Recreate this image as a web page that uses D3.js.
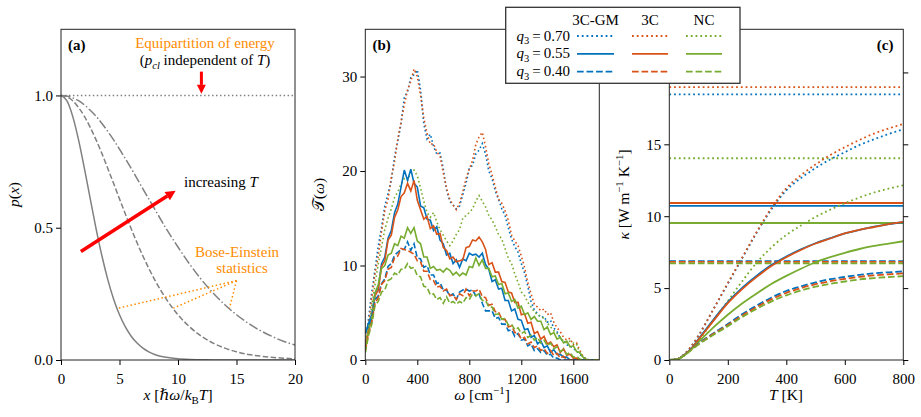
<!DOCTYPE html>
<html>
<head>
<meta charset="utf-8">
<script src="https://cdn.jsdelivr.net/npm/d3@7"></script>
<style>
  body { margin: 0; background: #fff; }
  svg { display: block; font-family: "Liberation Serif", "DejaVu Serif", serif; }
  .tick text { font-size: 15px; fill: #000; font-family: "Liberation Serif", serif; }
  .tick line { stroke: #000; stroke-width: 1; }
</style>
</head>
<body>
<svg id="fig" width="921" height="417"></svg>
<script>
// ---- panel (a): p(x) curves
const xA = [0, 0.5, 1, 1.5, 2, 2.5, 3, 3.5, 4, 4.5, 5, 5.5, 6, 6.5, 7, 7.5, 8, 9, 10, 11, 12, 13, 14, 15, 16, 17, 18, 19, 20];
const pLowT = [1, 0.98, 0.921, 0.832, 0.724, 0.609, 0.496, 0.393, 0.304, 0.23, 0.171, 0.125, 0.09, 0.064, 0.045, 0.031, 0.021, 0.01, 0.0045, 0.002, 0.001, 0, 0, 0, 0, 0, 0, 0, 0];
const pMidT = [1, 0.995, 0.98, 0.954, 0.921, 0.879, 0.832, 0.78, 0.724, 0.667, 0.609, 0.552, 0.496, 0.443, 0.393, 0.347, 0.304, 0.23, 0.171, 0.125, 0.09, 0.064, 0.045, 0.031, 0.021, 0.015, 0.01, 0.007, 0.0045];
const pHighT = [1, 0.998, 0.991, 0.98, 0.964, 0.944, 0.921, 0.894, 0.864, 0.832, 0.797, 0.761, 0.724, 0.686, 0.647, 0.609, 0.571, 0.496, 0.427, 0.362, 0.304, 0.253, 0.209, 0.171, 0.139, 0.112, 0.09, 0.071, 0.057];
const xClassical = [0, 20];
const pClassical = [1, 1];

// ---- panel (b): spectra T(omega)
const omega = [0, 25, 50, 75, 100, 125, 150, 175, 200, 225,
  250, 275, 300, 325, 350, 375, 400, 425, 450, 475,
  500, 525, 550, 575, 600, 625, 650, 675, 700, 725,
  750, 775, 800, 825, 850, 875, 900, 925, 950, 975,
  1000, 1025, 1050, 1075, 1100, 1125, 1150, 1175, 1200, 1225,
  1250, 1275, 1300, 1325, 1350, 1375, 1400, 1425, 1450, 1475,
  1500, 1525, 1550, 1575, 1600, 1625, 1650, 1675, 1700, 1725,
  1750, 1775, 1800];
const specGM70 = [1.5, 4.4, 7.2, 9.6, 12.1, 14.0, 16.3, 17.6, 19.0, 21.5,
  23.2, 25.0, 27.8, 28.4, 29.9, 30.2, 30.7, 28.6, 25.0, 23.4,
  23.9, 22.6, 21.8, 21.9, 20.2, 18.0, 16.8, 16.4, 16.0, 16.3,
  17.5, 18.7, 20.3, 20.6, 21.8, 22.2, 22.9, 21.8, 20.0, 19.2,
  17.9, 17.0, 16.0, 15.3, 14.0, 12.8, 12.0, 11.4, 10.2, 9.2,
  7.8, 6.2, 5.3, 4.9, 4.5, 4.6, 4.0, 4.2, 3.4, 3.0,
  2.3, 2.0, 1.6, 1.5, 1.2, 1.0, 0.6, 0.3, 0.1, 0,
  0, 0, 0];
const spec3C70 = [1.0, 3.8, 6.6, 9.2, 11.0, 13.6, 15.8, 17.0, 19.3, 21.0,
  23.4, 25.2, 27.0, 28.6, 29.5, 30.8, 30.0, 28.0, 25.6, 24.0,
  22.8, 22.9, 22.0, 21.6, 19.8, 18.2, 17.0, 16.4, 15.9, 16.6,
  17.8, 19.2, 20.2, 21.1, 22.8, 23.6, 24.1, 22.6, 20.8, 19.6,
  18.3, 17.0, 16.6, 15.8, 14.8, 13.2, 12.6, 12.1, 11.0, 9.8,
  8.2, 7.0, 5.9, 5.6, 5.2, 5.4, 4.8, 5.0, 4.0, 3.4,
  3.0, 2.4, 2.1, 2.3, 1.6, 1.8, 1.0, 0.4, 0.1, 0,
  0, 0, 0];
const specNC70 = [0.8, 3.0, 5.8, 8.0, 10.2, 12.0, 13.8, 15.0, 16.0, 17.2,
  17.8, 18.6, 19.2, 19.0, 19.9, 20.1, 19.5, 18.2, 16.8, 15.6,
  15.1, 15.6, 14.6, 13.8, 13.2, 12.6, 12.1, 12.6, 13.3, 13.8,
  15.0, 15.3, 15.6, 16.0, 16.8, 17.4, 16.8, 16.2, 15.3, 14.8,
  14.1, 13.3, 12.8, 11.8, 10.8, 10.2, 9.1, 8.2, 7.2, 6.8,
  6.1, 5.6, 5.1, 4.8, 4.6, 4.4, 3.9, 3.5, 3.1, 2.8,
  2.4, 2.0, 1.8, 2.0, 1.8, 1.7, 0.7, 0.3, 0.1, 0,
  0, 0, 0];
const specGM55 = [2.8, 3.9, 4.8, 7.1, 7.7, 10.2, 10.9, 12.9, 13.7, 15.6,
  16.5, 18.3, 20.1, 19.0, 20.2, 18.7, 18.3, 16.3, 16.1, 14.9,
  14.8, 13.7, 14.1, 12.7, 12.3, 11.1, 11.3, 10.2, 10.6, 9.8,
  10.7, 10.5, 11.3, 11.1, 11.2, 10.9, 11.3, 10.1, 9.6, 8.3,
  8.5, 7.5, 7.6, 6.3, 6.3, 5.2, 5.4, 4.3, 4.2, 3.2,
  3.3, 2.4, 2.6, 1.7, 2.0, 1.3, 1.5, 0.8, 1.1, 0.6,
  0.6, 0.3, 0.3, 0, 0, 0, 0, 0, 0, 0,
  0, 0, 0];
const spec3C55 = [1.6, 3.3, 4.4, 6.8, 7.4, 9.9, 10.5, 12.7, 13.2, 15.1,
  15.9, 17.3, 17.7, 18.7, 17.9, 19.0, 16.9, 15.9, 14.9, 15.2,
  13.9, 14.2, 13.3, 13.4, 11.9, 11.6, 10.7, 10.9, 10.4, 10.5,
  10.6, 11.9, 12.0, 12.7, 12.6, 13.0, 12.5, 11.7, 10.1, 10.3,
  9.3, 9.3, 8.3, 8.2, 7.2, 7.1, 6.1, 6.1, 4.8, 4.9,
  3.9, 4.0, 2.8, 3.0, 2.2, 2.5, 1.7, 1.9, 1.4, 1.6,
  0.8, 1.2, 0.5, 0.6, 0.2, 0.2, 0, 0, 0, 0,
  0, 0, 0];
const specNC55 = [1.2, 3.3, 4.6, 7.1, 8.0, 9.7, 10.0, 11.1, 11.3, 12.3,
  12.1, 13.1, 12.9, 14.0, 13.4, 14.0, 12.6, 12.3, 10.9, 10.9,
  9.7, 9.9, 9.5, 9.6, 9.3, 9.7, 9.5, 9.0, 9.3, 8.9,
  9.2, 9.0, 9.9, 9.8, 10.8, 10.0, 10.6, 9.7, 9.7, 8.8,
  8.9, 8.0, 8.1, 7.0, 7.1, 6.2, 6.4, 5.5, 5.7, 4.8,
  5.0, 4.3, 4.6, 4.1, 4.1, 3.2, 3.5, 2.7, 2.9, 2.2,
  2.4, 1.8, 2.0, 1.4, 1.5, 0.9, 0.8, 0.3, 0, 0,
  0, 0, 0];
const specGM40 = [3.0, 3.6, 4.6, 6.4, 6.8, 8.1, 8.6, 9.9, 10.2, 11.1,
  11.4, 11.7, 11.7, 12.5, 11.6, 12.3, 10.8, 10.7, 9.8, 10.0,
  9.0, 9.0, 8.1, 8.2, 7.4, 7.4, 6.8, 7.0, 6.4, 7.2,
  7.4, 7.5, 7.3, 7.4, 6.8, 7.0, 6.0, 5.2, 5.2, 5.2,
  4.4, 4.5, 3.8, 3.8, 3.1, 3.2, 2.5, 2.8, 2.1, 2.2,
  1.5, 1.7, 1.0, 1.2, 0.8, 1.0, 0.5, 0.6, 0.2, 0.2,
  0, 0, 0, 0, 0, 0, 0, 0, 0, 0,
  0, 0, 0];
const spec3C40 = [1.0, 2.8, 4.0, 6.0, 6.6, 8.0, 8.4, 9.6, 9.8, 10.8,
  11.0, 11.8, 11.7, 11.6, 11.4, 11.2, 10.5, 10.4, 9.4, 9.4,
  8.5, 8.4, 7.7, 7.8, 7.3, 7.5, 6.8, 6.9, 6.4, 7.0,
  6.8, 7.5, 6.8, 7.3, 7.3, 7.5, 6.7, 6.6, 5.8, 5.9,
  5.1, 5.1, 4.3, 4.3, 3.5, 3.6, 2.9, 2.9, 2.2, 2.4,
  1.7, 1.9, 1.3, 1.5, 1.0, 1.2, 0.7, 1.0, 0.5, 0.7,
  0.2, 0.4, 0, 0, 0, 0, 0, 0, 0, 0,
  0, 0, 0];
const specNC40 = [0.8, 2.6, 3.8, 5.8, 6.2, 7.2, 7.4, 8.4, 8.6, 9.2,
  9.0, 9.6, 9.6, 10.2, 9.7, 9.8, 8.9, 8.8, 7.8, 7.7,
  6.9, 7.0, 6.4, 6.6, 6.0, 6.7, 6.0, 6.2, 5.9, 6.2,
  6.0, 6.6, 6.4, 7.0, 6.8, 7.0, 6.3, 6.3, 5.6, 5.6,
  4.8, 4.9, 4.3, 4.4, 3.7, 3.8, 3.2, 3.4, 2.8, 3.0,
  2.4, 2.6, 2.1, 2.4, 1.8, 2.1, 1.5, 1.8, 1.2, 1.4,
  0.9, 1.1, 0.6, 0.8, 0.3, 0.4, 0.1, 0, 0, 0,
  0, 0, 0];

// ---- panel (c): kappa(T), quantum-corrected curves and classical levels
const tempK = [0, 25, 50, 75, 100, 150, 200, 250, 300, 350, 400, 450, 500, 550, 600, 650, 700, 750, 800];
const kapGM70 = [0, 0.04, 0.38, 0.95, 1.7, 3.5, 5.3, 7.1, 8.9, 10.5, 11.8, 12.65, 13.35, 13.95, 14.45, 14.95, 15.35, 15.72, 16.05];
const kap3C70 = [0, 0.04, 0.38, 0.95, 1.7, 3.5, 5.35, 7.15, 8.95, 10.6, 11.95, 12.85, 13.6, 14.25, 14.8, 15.3, 15.75, 16.1, 16.42];
const kapNC70 = [0, 0.04, 0.32, 0.78, 1.35, 2.75, 4.1, 5.5, 6.8, 7.85, 8.7, 9.35, 9.95, 10.45, 10.9, 11.3, 11.65, 11.92, 12.15];
const kapGM55 = [0, 0.04, 0.34, 0.8, 1.46, 2.78, 4.02, 5.03, 5.88, 6.62, 7.2, 7.7, 8.12, 8.47, 8.8, 9.05, 9.27, 9.45, 9.58];
const kap3C55 = [0, 0.04, 0.33, 0.78, 1.42, 2.7, 3.95, 4.95, 5.8, 6.55, 7.15, 7.65, 8.1, 8.45, 8.8, 9.05, 9.25, 9.45, 9.6];
const kapNC55 = [0, 0.04, 0.3, 0.72, 1.25, 2.25, 3.15, 3.95, 4.65, 5.3, 5.85, 6.35, 6.8, 7.15, 7.45, 7.72, 7.93, 8.1, 8.26];
const kapGM40 = [0, 0.04, 0.33, 0.75, 1.15, 1.85, 2.5, 3.2, 3.8, 4.35, 4.8, 5.12, 5.4, 5.62, 5.78, 5.92, 6.03, 6.1, 6.16];
const kap3C40 = [0, 0.04, 0.32, 0.73, 1.12, 1.8, 2.43, 3.1, 3.7, 4.23, 4.67, 5.0, 5.27, 5.48, 5.64, 5.78, 5.89, 5.96, 6.02];
const kapNC40 = [0, 0.04, 0.3, 0.7, 1.08, 1.74, 2.35, 3.0, 3.57, 4.08, 4.5, 4.83, 5.1, 5.3, 5.46, 5.6, 5.7, 5.77, 5.83];
// classical values, order GM, 3C, NC
const kapCl70 = [18.47, 18.98, 14.03];
const kapCl55 = [10.72, 10.92, 9.53];
const kapCl40 = [6.88, 6.82, 6.72];

const models = ['3C-GM', '3C', 'NC'];
const qLabels = ['0.70', '0.55', '0.40'];
const xTicksA = [0, 5, 10, 15, 20];
const yTicksA = [0, 0.5, 1.0];
const xTicksB = [0, 400, 800, 1200, 1600];
const yTicksB = [0, 10, 20, 30];
const xTicksC = [0, 200, 400, 600, 800];
const yTicksC = [0, 5, 10, 15, 20];

// ---- drawing
const svg = d3.select('#fig');
const yTop = 29.3, yBottom = 360;
const colors = { '3C-GM': '#0072bd', '3C': '#d95319', 'NC': '#77ac30' };
const styleOf = { '0.70': 'dotted', '0.55': 'solid', '0.40': 'dashed' };
const orange = '#ff8c00';

function dash(style, lw) {
  if (style === 'dotted') return lw + ',' + (1.65 * lw);
  if (style === 'dashed') return (3.7 * lw) + ',' + (1.6 * lw);
  if (style === 'dashdot') return (6.4 * lw) + ',' + (1.6 * lw) + ',' + lw + ',' + (1.6 * lw);
  return null;
}

// text with italic / sub / sup parts
function rich(t, parts, size) {
  let shift = 0;
  parts.forEach(function(p) {
    const st = p[1] || '';
    const s = t.append('tspan').text(p[0]);
    let target = 0;
    if (st.indexOf('sub') >= 0) target = 0.25 * size;
    if (st.indexOf('sup') >= 0) target = -0.4 * size;
    if (target !== shift) { s.attr('dy', target - shift); shift = target; }
    if (target !== 0) s.style('font-size', (size * 0.7) + 'px');
    if (st.charAt(0) === 'i') s.style('font-style', 'italic');
  });
  return t;
}

const defs = svg.append('defs');
function makePanel(id, x0, x1, xDomain, yDomain, xTicks, yTicks, yFmt) {
  const x = d3.scaleLinear().domain(xDomain).range([x0, x1]);
  const y = d3.scaleLinear().domain(yDomain).range([yBottom, yTop]);
  defs.append('clipPath').attr('id', 'clip-' + id)
    .append('rect').attr('x', x0).attr('y', yTop).attr('width', x1 - x0).attr('height', yBottom - yTop);
  const g = svg.append('g');
  g.append('g').attr('transform', 'translate(0,' + yBottom + ')')
    .call(d3.axisBottom(x).tickValues(xTicks).tickSize(5).tickPadding(8).tickFormat(d3.format('d')))
    .call(function(a) { a.select('.domain').remove(); });
  g.append('g').attr('transform', 'translate(' + x0 + ',0)')
    .call(d3.axisLeft(y).tickValues(yTicks).tickSize(5).tickPadding(3).tickFormat(yFmt))
    .call(function(a) { a.select('.domain').remove(); });
  const plot = g.append('g').attr('clip-path', 'url(#clip-' + id + ')');
  g.append('rect').attr('x', x0).attr('y', yTop)
    .attr('width', x1 - x0).attr('height', yBottom - yTop)
    .attr('fill', 'none').attr('stroke', '#222').attr('stroke-width', 1);
  return { x: x, y: y, g: g, plot: plot };
}

// ---------- (a)
const pa = makePanel('a', 61, 295, [0, 20], [0, 1.25], xTicksA, yTicksA, d3.format('.1f'));
const lineA = d3.line().x(function(d) { return pa.x(d[0]); }).y(function(d) { return pa.y(d[1]); }).curve(d3.curveMonotoneX);
[[pLowT, 'solid'], [pMidT, 'dashed'], [pHighT, 'dashdot']].forEach(function(s) {
  pa.plot.append('path')
    .attr('d', lineA(d3.zip(xA, s[0])))
    .attr('fill', 'none').attr('stroke', '#808080').attr('stroke-width', 1.5)
    .attr('stroke-dasharray', dash(s[1], 1.5));
});
pa.plot.append('path')
  .attr('d', lineA(d3.zip(xClassical, pClassical)))
  .attr('fill', 'none').attr('stroke', '#808080').attr('stroke-width', 1.5)
  .attr('stroke-dasharray', dash('dotted', 1.5));

// Bose-Einstein pointers
const beFrom = [15.0, 0.30];
const beTo = [[4.9, 0.196], [9.6, 0.196], [14.4, 0.196]];
beTo.forEach(function(p) {
  pa.g.append('line')
    .attr('x1', pa.x(beFrom[0])).attr('y1', pa.y(beFrom[1]))
    .attr('x2', pa.x(p[0])).attr('y2', pa.y(p[1]))
    .attr('stroke', orange).attr('stroke-width', 1.5).attr('stroke-dasharray', dash('dotted', 1.5));
});

function arrow(g, xa, ya, xb, yb, lw, hl, hw) {
  const ang = Math.atan2(yb - ya, xb - xa);
  const bx = xb - hl * Math.cos(ang), by = yb - hl * Math.sin(ang);
  g.append('line').attr('x1', xa).attr('y1', ya).attr('x2', bx).attr('y2', by)
    .attr('stroke', 'red').attr('stroke-width', lw);
  const px = -Math.sin(ang) * hw / 2, py = Math.cos(ang) * hw / 2;
  g.append('path')
    .attr('d', 'M' + xb + ',' + yb + 'L' + (bx + px) + ',' + (by + py) + 'L' + (bx - px) + ',' + (by - py) + 'Z')
    .attr('fill', 'red');
}
const incFrom = [1.7, 0.41], incTo = [9.8, 0.64];
arrow(pa.g, pa.x(incFrom[0]), pa.y(incFrom[1]), pa.x(incTo[0]), pa.y(incTo[1]), 3.5, 10, 10);
const eqFrom = [12.0, 1.09], eqTo = [12.0, 1.006];
arrow(pa.g, pa.x(eqFrom[0]), pa.y(eqFrom[1]), pa.x(eqTo[0]), pa.y(eqTo[1]), 3, 9, 9);

pa.g.append('text').attr('x', 68).attr('y', 50).attr('font-size', 15).attr('font-weight', 'bold').text('(a)');
pa.g.append('text').attr('x', 205).attr('y', 48).attr('font-size', 15).attr('text-anchor', 'middle')
  .attr('fill', orange).text('Equipartition of energy');
rich(pa.g.append('text').attr('x', 205).attr('y', 65).attr('font-size', 15).attr('text-anchor', 'middle'),
  [['('], ['p', 'i'], ['cl', 'isub'], [' independent of '], ['T', 'i'], [')']], 15);
rich(pa.g.append('text').attr('x', 184).attr('y', 187).attr('font-size', 15),
  [['increasing '], ['T', 'i']], 15);
pa.g.append('text').attr('x', 237).attr('y', 257).attr('font-size', 15).attr('text-anchor', 'middle')
  .attr('fill', orange).text('Bose-Einstein');
pa.g.append('text').attr('x', 242).attr('y', 273).attr('font-size', 15).attr('text-anchor', 'middle')
  .attr('fill', orange).text('statistics');
rich(pa.g.append('text').attr('font-size', 15.5).attr('text-anchor', 'middle')
  .attr('transform', 'translate(19,194.5) rotate(-90)'),
  [['p', 'i'], ['('], ['x', 'i'], [')']], 15.5);
rich(pa.g.append('text').attr('x', 178).attr('y', 400).attr('font-size', 15.5).attr('text-anchor', 'middle'),
  [['x', 'i'], [' ['], ['\u210f\u03c9', 'i'], ['/'], ['k', 'i'], ['B', 'sub'], ['T', 'i'], [']']], 15.5);

// ---------- (b)
const pb = makePanel('b', 365.3, 599.3, [0, 1800], [0, 35], xTicksB, yTicksB, d3.format('d'));
const lineB = d3.line().x(function(d) { return pb.x(d[0]); }).y(function(d) { return pb.y(d[1]); });
const spectra = [
  ['0.70', '3C-GM', specGM70], ['0.70', '3C', spec3C70], ['0.70', 'NC', specNC70],
  ['0.55', '3C-GM', specGM55], ['0.55', '3C', spec3C55], ['0.55', 'NC', specNC55],
  ['0.40', '3C-GM', specGM40], ['0.40', '3C', spec3C40], ['0.40', 'NC', specNC40]
];
pb.plot.selectAll('.spec').data(spectra).enter().append('path')
  .attr('class', 'spec')
  .attr('d', function(d) { return lineB(d3.zip(omega, d[2])); })
  .attr('fill', 'none')
  .attr('stroke', function(d) { return colors[d[1]]; })
  .attr('stroke-width', 1.6)
  .attr('stroke-dasharray', function(d) { return dash(styleOf[d[0]], 1.6); });
pb.g.append('text').attr('x', 372.5).attr('y', 50).attr('font-size', 15).attr('font-weight', 'bold').text('(b)');
rich(pb.g.append('text').attr('font-size', 15.5).attr('text-anchor', 'middle')
  .attr('transform', 'translate(324,194.5) rotate(-90)'),
  [['\ud835\udcaf'], ['('], ['\u03c9', 'i'], [')']], 15.5);
rich(pb.g.append('text').attr('x', 482).attr('y', 400).attr('font-size', 15.5).attr('text-anchor', 'middle'),
  [['\u03c9', 'i'], [' [cm'], ['\u22121', 'sup'], [']']], 15.5);

// ---------- (c)
const pc = makePanel('c', 669.3, 903.3, [0, 800], [0, 23], xTicksC, yTicksC, d3.format('d'));
pc.g.append('g').attr('transform', 'translate(903.3,0)')
  .call(d3.axisRight(pc.y).tickValues(yTicksC).tickSize(5).tickFormat(''))
  .call(function(a) { a.select('.domain').remove(); });
const lineC = d3.line().x(function(d) { return pc.x(d[0]); }).y(function(d) { return pc.y(d[1]); }).curve(d3.curveMonotoneX);
const classical = [['0.70', kapCl70], ['0.55', kapCl55], ['0.40', kapCl40]];
classical.forEach(function(c) {
  c[1].forEach(function(v, i) {
    pc.plot.append('line')
      .attr('x1', pc.x(0)).attr('x2', pc.x(800)).attr('y1', pc.y(v)).attr('y2', pc.y(v))
      .attr('stroke', colors[models[i]]).attr('stroke-width', 1.8)
      .attr('stroke-dasharray', dash(styleOf[c[0]], 1.8));
  });
});
const kappas = [
  ['0.70', '3C-GM', kapGM70], ['0.70', '3C', kap3C70], ['0.70', 'NC', kapNC70],
  ['0.55', '3C-GM', kapGM55], ['0.55', '3C', kap3C55], ['0.55', 'NC', kapNC55],
  ['0.40', '3C-GM', kapGM40], ['0.40', '3C', kap3C40], ['0.40', 'NC', kapNC40]
];
pc.plot.selectAll('.kap').data(kappas).enter().append('path')
  .attr('class', 'kap')
  .attr('d', function(d) { return lineC(d3.zip(tempK, d[2])); })
  .attr('fill', 'none')
  .attr('stroke', function(d) { return colors[d[1]]; })
  .attr('stroke-width', 1.8)
  .attr('stroke-dasharray', function(d) { return dash(styleOf[d[0]], 1.8); });
pc.g.append('text').attr('x', 893.5).attr('y', 50).attr('font-size', 15).attr('font-weight', 'bold')
  .attr('text-anchor', 'end').text('(c)');
rich(pc.g.append('text').attr('font-size', 15.5).attr('text-anchor', 'middle')
  .attr('transform', 'translate(629,194.5) rotate(-90)'),
  [['\u03ba', 'i'], [' [W m'], ['\u22121', 'sup'], [' K'], ['\u22121', 'sup'], [']']], 15.5);
rich(pc.g.append('text').attr('x', 786).attr('y', 400).attr('font-size', 15.5).attr('text-anchor', 'middle'),
  [['T', 'i'], [' [K]']], 15.5);

// ---------- legend
const leg = svg.append('g');
leg.append('rect').attr('x', 505.7).attr('y', 7.3).attr('width', 234.3).attr('height', 76)
  .attr('fill', '#fff').attr('stroke', '#333').attr('stroke-width', 1.3);
const colX = [[577, 614], [632, 668], [686, 722]];
const rowY = [36, 53.8, 71.6];
models.forEach(function(m, i) {
  leg.append('text').attr('x', (colX[i][0] + colX[i][1]) / 2).attr('y', 25)
    .attr('font-size', 15).attr('text-anchor', 'middle').text(m);
});
qLabels.forEach(function(q, j) {
  rich(leg.append('text').attr('x', 570).attr('y', rowY[j] + 4.5).attr('font-size', 15).attr('text-anchor', 'end'),
    [['q', 'i'], ['3', 'sub'], ['\u2009=\u2009' + q]], 15);
  models.forEach(function(m, i) {
    leg.append('line').attr('x1', colX[i][0]).attr('x2', colX[i][1]).attr('y1', rowY[j]).attr('y2', rowY[j])
      .attr('stroke', colors[m]).attr('stroke-width', 1.8)
      .attr('stroke-dasharray', dash(styleOf[q], 1.8));
  });
});
</script>
</body>
</html>
